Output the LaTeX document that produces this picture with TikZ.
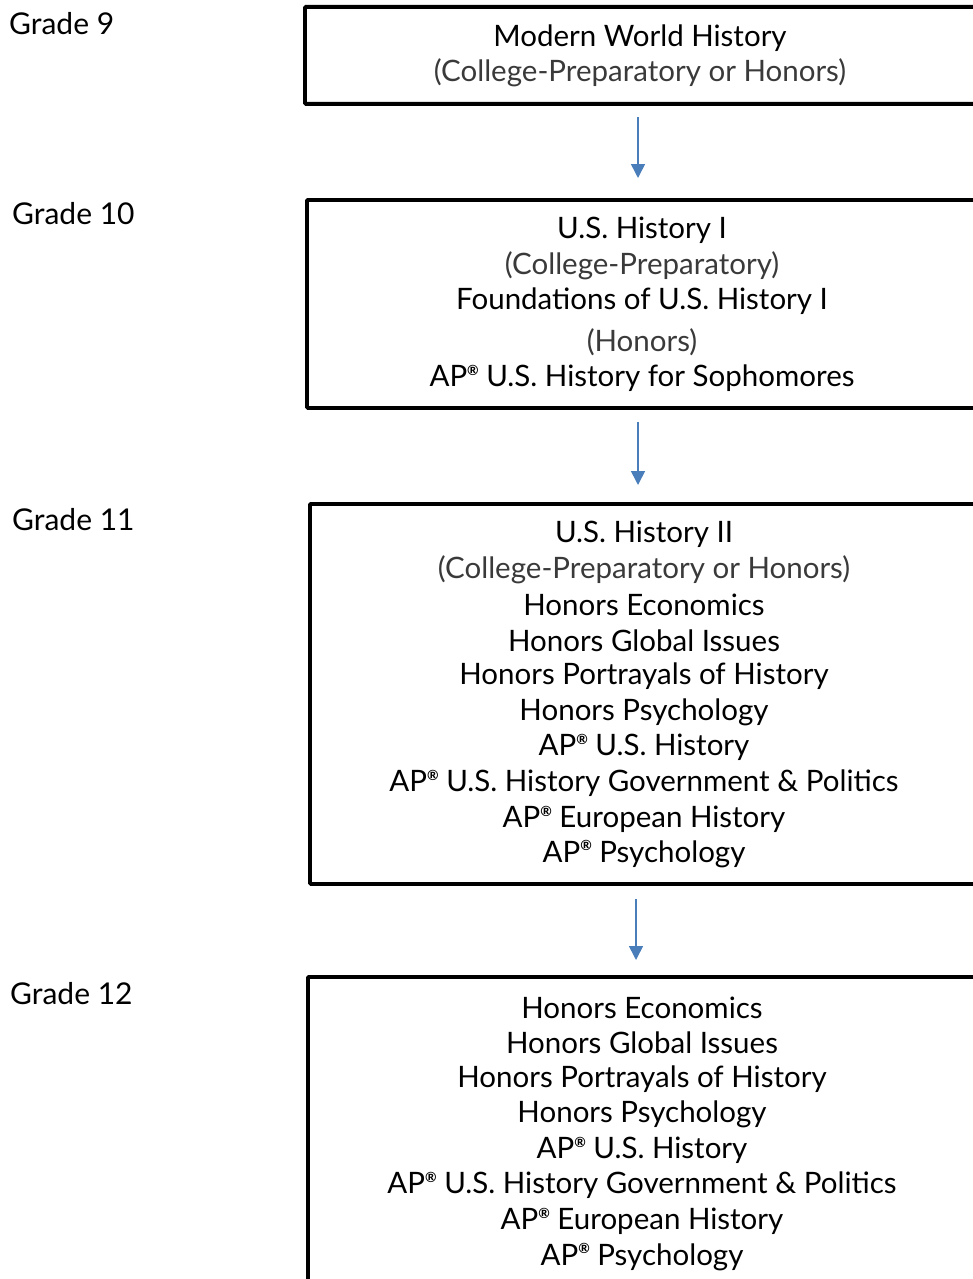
\documentclass[tikz,border=0pt]{standalone}
\usepackage{fontspec}
\setmainfont{Lato}
\usetikzlibrary{arrows.meta}
\definecolor{arrowblue}{HTML}{4A7EBB}
\definecolor{softtext}{HTML}{3A3A3A}
\newcommand{\regm}{\raisebox{0.75ex}{\fontsize{14}{14}\selectfont\bfseries ®}}
\begin{document}
\begin{tikzpicture}[x=1pt,y=-1pt,
  gbox/.style={draw=black,line width=3.8pt,rectangle,anchor=north west,inner sep=0pt,rounded corners=1pt},
  ln/.style={font=\fontsize{29.5}{32}\selectfont,inner sep=0pt,anchor=center},
  pn/.style={ln,text=softtext},
  glabel/.style={font=\fontsize{30}{32}\selectfont,inner sep=0pt,anchor=west},
  arr/.style={draw=arrowblue,line width=1.6pt,-{Triangle[length=14pt,width=14pt]}}]
\useasboundingbox (0,0) rectangle (973,1279);
\clip (0,0) rectangle (973,1279);
% boxes
\node[gbox,minimum width=700pt,minimum height=97pt] (b1) at (303,5) {};
\node[gbox,minimum width=700pt,minimum height=208pt] (b2) at (305,198) {};
\node[gbox,minimum width=700pt,minimum height=380pt] (b3) at (308,502) {};
\node[gbox,minimum width=700pt,minimum height=400pt] (b4) at (306,975) {};
% grade labels
\node[glabel] (g9) at (9,24) {Grade 9};
\node[glabel] (g10) at (12,214) {Grade 10};
\node[glabel] (g11) at (12,520) {Grade 11};
\node[glabel] (g12) at (10,994) {Grade 12};
% box 1
\node[ln] (t11) at (640,38) {Modern World History};
\node[pn] (t12) at (640,73) {(College-Preparatory or Honors)};
% box 2
\node[ln] (t21) at (642,230) {U.S. History I};
\node[pn] (t22) at (642,266) {(College-Preparatory)};
\node[ln] (t23) at (642,301) {Foundations of U.S. History I};
\node[pn] (t24) at (642,342) {(Honors)};
\node[ln] (t25) at (642,378) {AP\regm{} U.S. History for Sophomores};
% box 3
\node[ln] (t31) at (644,534) {U.S. History II};
\node[pn] (t32) at (644,570) {(College-Preparatory or Honors)};
\node[ln] (t33) at (644,605) {Honors Economics};
\node[ln] (t34) at (644,641) {Honors Global Issues};
\node[ln] (t35) at (644,676) {Honors Portrayals of History};
\node[ln] (t36) at (644,712) {Honors Psychology};
\node[ln] (t37) at (644,747) {AP\regm{} U.S. History};
\node[ln] (t38) at (644,783) {AP\regm{} U.S. History Government \& Politics};
\node[ln] (t39) at (644,819) {AP\regm{} European History};
\node[ln] (t310) at (644,854) {AP\regm{} Psychology};
% box 4
\node[ln] (t41) at (642,1008) {Honors Economics};
\node[ln] (t42) at (642,1043) {Honors Global Issues};
\node[ln] (t43) at (642,1079) {Honors Portrayals of History};
\node[ln] (t44) at (642,1114) {Honors Psychology};
\node[ln] (t45) at (642,1150) {AP\regm{} U.S. History};
\node[ln] (t46) at (642,1185) {AP\regm{} U.S. History Government \& Politics};
\node[ln] (t47) at (642,1221) {AP\regm{} European History};
\node[ln] (t48) at (642,1257) {AP\regm{} Psychology};
% arrows
\coordinate (ax1) at (638,0);
\coordinate (ax3) at (636,0);
\draw[arr,shorten <=11pt,shorten >=20pt] (b1.south -| ax1) -- (b2.north -| ax1);
\draw[arr,shorten <=12pt,shorten >=17pt] (b2.south -| ax1) -- (b3.north -| ax1);
\draw[arr,shorten <=13pt,shorten >=15pt] (b3.south -| ax3) -- (b4.north -| ax3);
\end{tikzpicture}
\end{document}
